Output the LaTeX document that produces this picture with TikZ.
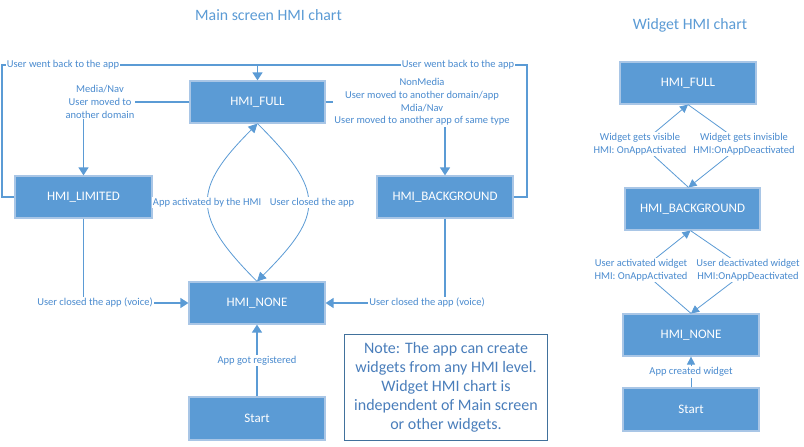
\documentclass[tikz,border=0pt]{standalone}
\usepackage{fontspec}
\setmainfont{Carlito}
\usetikzlibrary{arrows.meta}
\definecolor{boxblue}{HTML}{5B9BD5}
\definecolor{boxedge}{HTML}{A9C6E6}
\definecolor{lineblue}{HTML}{5B9BD5}
\definecolor{lblblue}{HTML}{4A8BCF}
\definecolor{noteblue}{HTML}{4A7EBB}
\definecolor{noteedge}{HTML}{41719C}
\tikzset{
  hmibox/.style={rectangle, minimum width=136pt, minimum height=42pt, fill=boxblue, draw=boxedge, line width=1.2pt, text=white, font=\fontsize{13}{15}\selectfont, inner sep=0pt},
  conn/.style={draw=lineblue, line width=1.3pt, -{Triangle[length=8pt,width=10pt]}},
  plainconn/.style={draw=lineblue, line width=1.3pt},
  thinconn/.style={draw=lineblue, line width=0.8pt, -{Triangle[length=9pt,width=9pt]}},
  wconn/.style={draw=lineblue, line width=0.8pt, -{Triangle[length=8pt,width=8pt]}},
  lbl/.style={fill=white, text=lblblue, font=\fontsize{10.5}{12.7}\selectfont, inner sep=1pt, align=center},
  ttl/.style={text=boxblue, font=\fontsize{15.8}{18}\selectfont, inner sep=0pt},
}
\begin{document}
\begin{tikzpicture}[x=1pt,y=1pt]
\useasboundingbox[fill=white] (0,0) rectangle (804,-447);
% titles
\node[ttl] (t1) at (268.5,-15) {Main screen HMI chart};
\node[ttl] (t2) at (690,-25) {Widget HMI chart};
% main boxes
\node[hmibox, minimum width=135pt] (full) at (257.5,-102) {HMI\_FULL};
\node[hmibox, minimum width=137pt] (limited) at (83.5,-197) {HMI\_LIMITED};
\node[hmibox] (bg) at (445,-197) {HMI\_BACKGROUND};
\node[hmibox] (none) at (257,-303) {HMI\_NONE};
\node[hmibox, minimum height=43pt] (start) at (257,-418.5) {Start};
% widget boxes
\node[hmibox] (wfull) at (688,-83) {HMI\_FULL};
\node[hmibox, minimum width=135pt] (wbg) at (692.5,-209) {HMI\_BACKGROUND};
\node[hmibox] (wnone) at (691,-335) {HMI\_NONE};
\node[hmibox, minimum height=43pt] (wstart) at (691,-409.5) {Start};
% note
\node[draw=noteedge, line width=1pt, minimum width=203pt, minimum height=106pt, text=noteblue, align=center, font=\fontsize{16}{19}\selectfont, inner sep=0pt] (note) at (446,-387)
  {Note: The app can create\\widgets from any HMI level.\\Widget HMI chart is\\independent of Main screen\\or other widgets.};
% coordinates
\coordinate (lc) at (2,-65);
\coordinate (rc) at (527,-65);
\coordinate (wc1) at (641,-144);
\coordinate (wc2) at (743,-144);
\coordinate (wc3) at (641,-270);
\coordinate (wc4) at (748,-270);
% main connectors
\draw[plainconn] (limited.west) -| (lc) -| (full.north);
\draw[conn] (bg.east) -| (rc) -| (full.north);
\draw[conn] (full.west) -| (limited.north);
\draw[conn] (full.east) -| (bg.north);
\draw[conn] (limited.south) |- (none.west);
\draw[conn] (bg.south) |- (none.east);
\draw[conn] (start.north) -- (none.south) node[lbl, midway] {App got registered};
\draw[thinconn] (none.north) to[out=135,in=-135,looseness=1.5] node[lbl, pos=0.5, xshift=-1pt] {App activated by the HMI} (full.south);
\draw[thinconn] (full.south) to[out=-45,in=45,looseness=1.55] node[lbl, pos=0.5, xshift=4pt] {User closed the app} (none.north);
% widget connectors
\draw[wconn] ([xshift=-4pt]wbg.north) -- (wc1) -- (wfull.south);
\draw[wconn] (wfull.south) -- (wc2) -- ([xshift=-4pt]wbg.north);
\draw[wconn] (wnone.north) -- (wc3) -- ([xshift=-2pt]wbg.south);
\draw[wconn] ([xshift=-2pt]wbg.south) -- (wc4) -- (wnone.north);
\draw[wconn] (wstart.north) -- (wnone.south) node[lbl, midway] {App created widget};
% labels
\node[lbl] (l1) at (63,-65) {User went back to the app};
\node[lbl] (l2) at (458,-65) {User went back to the app};
\node[lbl] (l3) at (100,-102) {Media/Nav\\User moved to\\another domain};
\node[lbl] (l4) at (422,-102) {NonMedia\\User moved to another domain/app\\Mdia/Nav\\User moved to another app of same type};
\node[lbl] (l5) at (95,-303) {User closed the app (voice)};
\node[lbl] (l6) at (427,-303) {User closed the app (voice)};
\node[lbl] (l7) at (640,-144) {Widget gets visible\\HMI: OnAppActivated};
\node[lbl] (l8) at (744,-144) {Widget gets invisible\\HMI:OnAppDeactivated};
\node[lbl] (l9) at (641,-270) {User activated widget\\HMI: OnAppActivated};
\node[lbl] (l10) at (748,-270) {User deactivated widget\\HMI:OnAppDeactivated};
\end{tikzpicture}
\end{document}
